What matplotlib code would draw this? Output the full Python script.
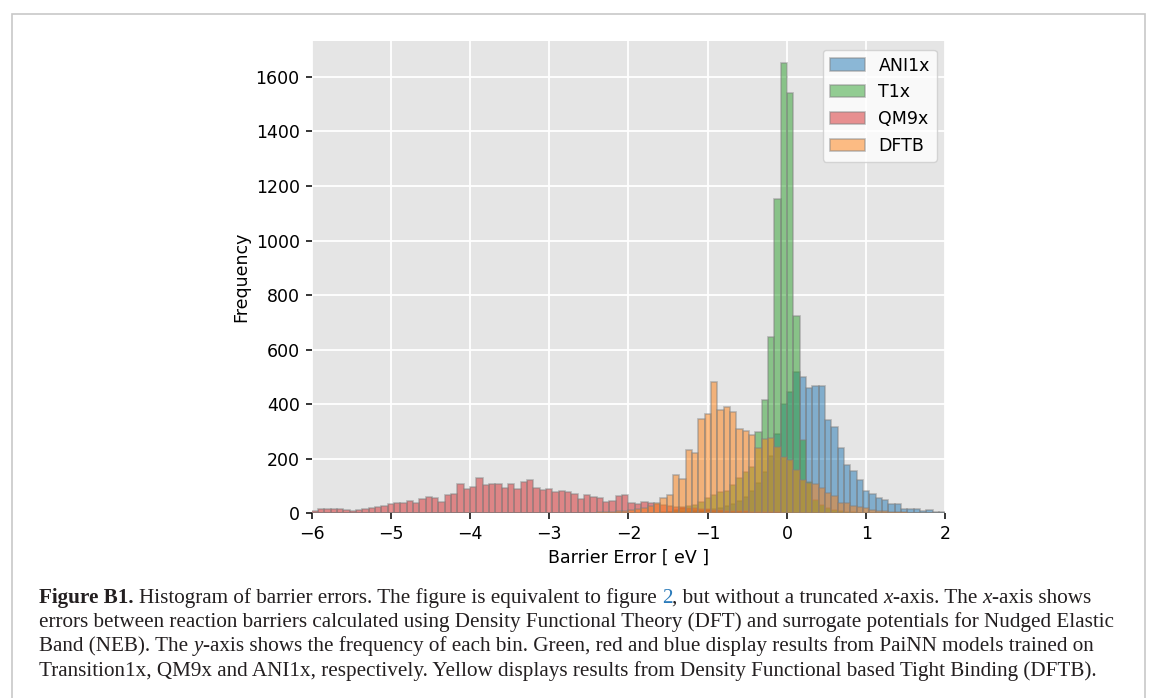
import matplotlib
matplotlib.use("Agg")
import matplotlib.pyplot as plt
import numpy as np
from matplotlib.patches import Rectangle

# Histogram bins: 100 bins of 0.08 eV between -6 and 2 eV
bin_edges = np.linspace(-6, 2, 101)

# Counts per bin for every model
ani1x_counts = [0] * 50 + [
    0, 0, 0, 0, 0, 2, 3, 4, 5, 6,
    8, 10, 12, 15, 20, 25, 35, 45, 60, 80,
    110, 150, 210, 290, 400, 445, 517, 500, 458, 465,
    465, 342, 316, 238, 177, 155, 122, 83, 70, 55,
    47, 35, 33, 16, 15, 17, 10, 11, 6, 4]
t1x_counts = [0] * 50 + [
    0, 0, 0, 0, 0, 3, 5, 12, 18, 28,
    30, 43, 55, 67, 79, 80, 104, 128, 153, 171,
    297, 415, 647, 1152, 1649, 1541, 724, 270, 116, 50,
    30, 20, 12, 8, 5, 3, 2, 0, 0, 0,
    0, 0, 0, 0, 0, 0, 0, 0, 0, 0]
qm9x_counts = [
    8, 15, 14, 15, 17, 13, 10, 11, 17, 20,
    22, 27, 33, 38, 39, 45, 38, 54, 59, 55,
    40, 66, 69, 109, 89, 98, 131, 104, 109, 106,
    91, 106, 90, 113, 122, 93, 85, 88, 77, 82,
    78, 70, 53, 68, 59, 57, 41, 45, 65, 66,
    37, 34, 43, 39, 35, 30, 27, 24, 22, 20,
    18, 16, 14, 13, 11, 10, 9, 8, 7, 6,
    5, 4, 3, 3, 2, 2, 1, 1, 0, 0] + [0] * 20
dftb_counts = [0] * 40 + [
    0, 0, 0, 0, 2, 4, 6, 6, 8, 10,
    12, 14, 18, 25, 37, 57, 67, 139, 127, 232,
    220, 346, 365, 482, 377, 391, 371, 310, 302, 287,
    238, 272, 275, 244, 208, 195, 159, 122, 110, 108,
    92, 73, 64, 38, 37, 28, 24, 18, 12, 10,
    8, 5, 4, 3, 2, 1, 0, 0, 0, 0]

series = [("ANI1x", ani1x_counts, "C0"),
          ("T1x", t1x_counts, "C2"),
          ("QM9x", qm9x_counts, "C3"),
          ("DFTB", dftb_counts, "C1")]

W, H = 1156, 698
fig = plt.figure(figsize=(W / 100, H / 100), dpi=100)
ax = fig.add_axes([311.5 / W, 1 - 513.3 / H, (945.5 - 311.5) / W, (513.3 - 41) / H])

ax.set_facecolor("#E5E5E5")
ax.grid(True, color="white", linewidth=1.3)
ax.set_axisbelow(True)
for sp in ax.spines.values():
    sp.set_visible(False)

centers = 0.5 * (bin_edges[:-1] + bin_edges[1:])
for name, counts, col in series:
    ax.hist(centers, bins=bin_edges, weights=counts, color=col, alpha=0.5,
            edgecolor="grey", linewidth=1.2, label=name)

ax.set_xlim(-6, 2)
ax.set_xticks(np.arange(-6, 3, 1))
ax.set_yticks(np.arange(0, 1601, 200))
ax.tick_params(length=4.5, width=1.1, labelsize=12.5, color="black", pad=4)
ax.set_xlabel("Barrier Error [ eV ]", fontsize=12.5)
ax.set_ylabel("Frequency", fontsize=12.5)
ax.legend(loc="upper right", fontsize=12.5)

# light frame around the figure block
fig.add_artist(Rectangle((12 / W, -0.2), (1145 - 12) / W, (698 - 14) / H + 0.2,
                         transform=fig.transFigure, fill=False,
                         edgecolor="#c8c8c8", linewidth=1.2))

# caption, written run by run so bold / italic / link pieces sit inline
cap = dict(family="Liberation Serif", fontsize=15.2, color="#231f20")
renderer = fig.canvas.get_renderer()
probe_a = fig.text(0, 0, "aa", **cap)
probe_b = fig.text(0, 0, "a a", **cap)
space_w = (probe_b.get_window_extent(renderer).width
           - probe_a.get_window_extent(renderer).width)
probe_a.remove()
probe_b.remove()


def put_line(runs, x0, y0):
    x = x0
    for s, kw in runs:
        lead = len(s) - len(s.lstrip(" "))
        trail = len(s) - len(s.rstrip(" "))
        x += lead * space_w
        props = dict(cap)
        props.update(kw)
        t = fig.text(x / W, 1 - y0 / H, s.strip(" "), ha="left", va="baseline", **props)
        x = t.get_window_extent(renderer).x1 + trail * space_w


bold = dict(fontweight="bold")
ital = dict(fontstyle="italic")
plain = {}
caption_lines = [
    [("Figure B1.", bold),
     (" Histogram of barrier errors. The figure is equivalent to figure ", plain),
     ("2", dict(color="#2b7bba")),
     (", but without a truncated ", plain), ("x", ital),
     ("-axis. The ", plain), ("x", ital), ("-axis shows", plain)],
    [("errors between reaction barriers calculated using Density Functional Theory (DFT) "
      "and surrogate potentials for Nudged Elastic", plain)],
    [("Band (NEB). The ", plain), ("y", ital),
     ("-axis shows the frequency of each bin. Green, red and blue display results from "
      "PaiNN models trained on", plain)],
    [("Transition1x, QM9x and ANI1x, respectively. Yellow displays results from Density "
      "Functional based Tight Binding (DFTB).", plain)],
]
for i, runs in enumerate(caption_lines):
    put_line(runs, 39, 603 + 24.2 * i)

fig.savefig("out.png", dpi=100)
